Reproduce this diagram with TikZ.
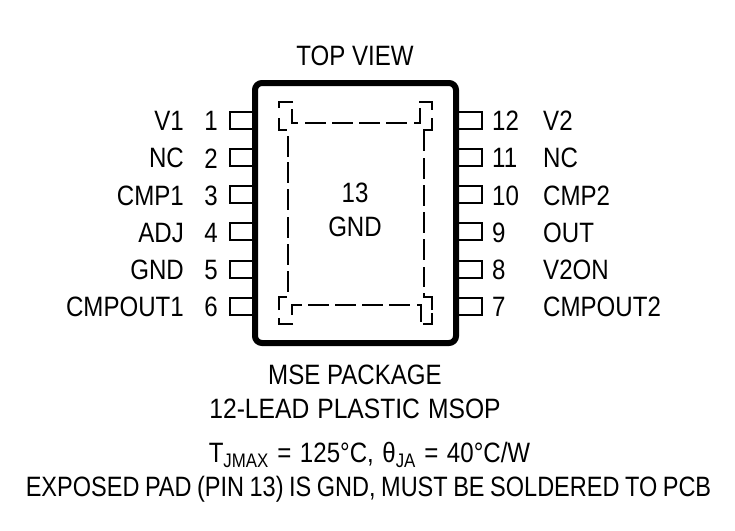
\documentclass[tikz,border=0pt]{standalone}
\usepackage{fontspec}
\setmainfont[FakeStretch=0.86]{Liberation Sans}
\newfontfamily\notefont[FakeStretch=0.84]{Liberation Sans}
\newfontfamily\typefont[FakeStretch=0.88]{Liberation Sans}
\tikzset{
	pkgbody/.style={line width=6pt,rounded corners=7pt},
	pinbox/.style={line width=2pt},
	padline/.style={line width=1.6pt},
	pinlabel/.style={font=\fontsize{28}{28}\selectfont,inner sep=0pt},
	capt/.style={font=\fontsize{28}{28}\selectfont,inner sep=0pt,align=center},
}
\begin{document}
\begin{tikzpicture}[x=1pt,y=-1pt]
	\useasboundingbox (0,0) rectangle (735,530);
	\fill[white] (0,0) rectangle (735,530);
	% package
	\draw[pkgbody] (255,83) rectangle (456,343);
	% pins
	\foreach \num/\name/\ypos in {1/V1/120,2/NC/157.3,3/CMP1/194.5,4/ADJ/231.7,5/GND/269,6/CMPOUT1/306.2} {
		\draw[pinbox] (252,\ypos-8.5) -- (230,\ypos-8.5) -- (230,\ypos+8.5) -- (252,\ypos+8.5);
		\node[pinlabel,anchor=east] (pl\num) at (218,\ypos+1) {\num};
		\node[pinlabel,anchor=east] (nl\num) at (184,\ypos+1) {\name};
	}
	\foreach \num/\name/\ypos in {12/V2/120,11/NC/157.3,10/CMP2/194.5,9/OUT/231.7,8/V2ON/269,7/CMPOUT2/306.2} {
		\draw[pinbox] (459,\ypos-8.5) -- (482,\ypos-8.5) -- (482,\ypos+8.5) -- (459,\ypos+8.5);
		\node[pinlabel,anchor=west] (pl\num) at (492,\ypos+1) {\num};
		\node[pinlabel,anchor=west] (nl\num) at (543,\ypos+1) {\name};
	}
	% exposed pad
	\draw[padline] (293,102) -- (279,102) -- (279,108);
	\draw[padline] (279,118) -- (279,130) -- (287,130);
	\draw[padline] (292,109) -- (292,123) -- (298,123);
	\foreach \xpos in {305,332,359,386} {
		\draw[padline] (\xpos,123) -- (\xpos+21,123);
	}
	\draw[padline] (414,123) -- (420,123) -- (420,108);
	\draw[padline] (419,102) -- (432,102) -- (432,110);
	\draw[padline] (432,118) -- (432,130) -- (424,130) -- (424,151);
	\foreach \ypos in {136,162,189,217,244,271} {
		\draw[padline] (288,\ypos) -- (288,\ypos+21);
	}
	\foreach \ypos in {158,185,212,239} {
		\draw[padline] (424,\ypos) -- (424,\ypos+21);
	}
	\draw[padline] (424,267) -- (424,287);
	\draw[padline] (293,324) -- (279,324) -- (279,318);
	\draw[padline] (279,310) -- (279,297) -- (287,297);
	\draw[padline] (292,315) -- (292,305) -- (302,305);
	\foreach \xpos in {308,335,362,389} {
		\draw[padline] (\xpos,305) -- (\xpos+21,305);
	}
	\draw[padline] (417,305) -- (421,305) -- (421,322);
	\draw[padline] (423,324) -- (432,324) -- (432,313);
	\draw[padline] (432,310) -- (432,297) -- (424,297) -- (424,293);
	% text
	\node[capt] (padnum) at (355,193) {13};
	\node[capt] (padgnd) at (355,227) {GND};
	\node[capt] (topview) at (355,56) {TOP VIEW};
	\node[capt] (pkgname) at (355,375) {MSE PACKAGE};
	\node[capt] (pkgtype) at (355,409) {\typefont\spaceskip=8pt 12-LEAD PLASTIC MSOP};
	\node[capt] (thermal) at (369.5,455) {\spaceskip=8.5pt T\textsubscript{JMAX} = 125°C, θ\textsubscript{JA} = 40°C/W};
	\node[capt] (padnote) at (368.5,489) {\notefont\spaceskip=5.5pt EXPOSED PAD (PIN 13) IS GND, MUST BE SOLDERED TO PCB};
\end{tikzpicture}
\end{document}
